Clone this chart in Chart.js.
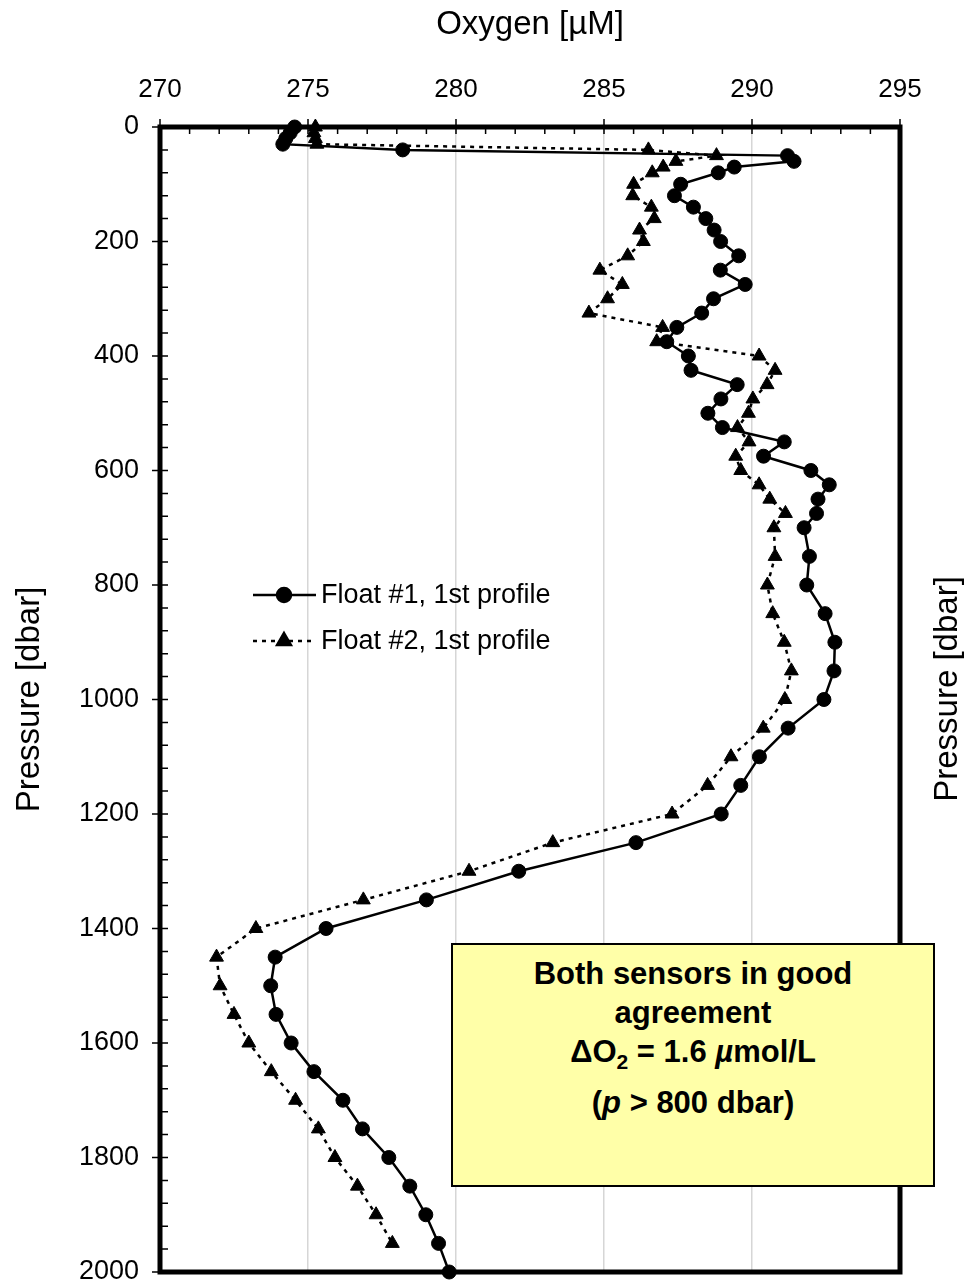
<!DOCTYPE html>
<html>
<head>
<meta charset="utf-8">
<title>Oxygen profiles</title>
<script src="https://cdn.jsdelivr.net/npm/chart.js@4.4.1/dist/chart.umd.min.js"></script>
<style>
  body { margin: 0; background: #fff; }
  #wrap { position: relative; width: 965px; height: 1284px; }
  #nota {
    position: absolute; left: 451px; top: 943px; width: 484px; height: 244px;
    border: 2px solid #000; background: #ffffa8;
    font: bold 31px "Liberation Sans", Arial, sans-serif; color: #000;
    text-align: center; line-height: 39px; padding-top: 9px; box-sizing: border-box;
  }
  #nota sub { font-size: 21px; line-height: 0; }
  #nota .ult { margin-top: 12px; }
</style>
</head>
<body>
<div id="wrap">
  <canvas id="grafico" width="965" height="1284"></canvas>
  <div id="nota">
    <div>Both sensors in good</div>
    <div>agreement</div>
    <div>&Delta;O<sub>2</sub> = 1.6 <i>&micro;</i>mol/L</div>
    <div class="ult">(<i>p</i> &gt; 800 dbar)</div>
  </div>
</div>
<script>
// Niveles de presión (dbar) y oxígeno (µM)
const presion = [0, 10, 20, 30, 40, 50, 60, 70, 80, 100, 120, 140, 160, 180, 200,
  225, 250, 275, 300, 325, 350, 375, 400, 425, 450, 475, 500, 525, 550, 575, 600,
  625, 650, 675, 700, 750, 800, 850, 900, 950, 1000, 1050, 1100, 1150, 1200, 1250,
  1300, 1350, 1400, 1450, 1500, 1550, 1600, 1650, 1700, 1750, 1800, 1850, 1900, 1950, 2000];

const float1 = [274.55, 274.4, 274.25, 274.15, 278.2, 291.2, 291.42, 289.4, 288.86, 287.59,
  287.38, 288.02, 288.44, 288.72, 288.94, 289.55, 288.93, 289.77, 288.7, 288.3, 287.46,
  287.12, 287.85, 287.94, 289.5, 288.95, 288.51, 289.0, 291.09, 290.39, 291.99, 292.61,
  292.23, 292.18, 291.76, 291.94, 291.85, 292.47, 292.8, 292.77, 292.43, 291.22, 290.25,
  289.62, 288.96, 286.08, 282.12, 279.0, 275.61, 273.89, 273.74, 273.92, 274.43, 275.2,
  276.18, 276.84, 277.73, 278.44, 278.98, 279.41, 279.77];

// Float #2 termina en 1950 dbar
const float2 = [275.25, 275.2, 275.25, 275.3, 286.5, 288.8, 287.43, 287.0, 286.63, 286.0,
  285.97, 286.6, 286.7, 286.2, 286.33, 285.8, 284.86, 285.62, 285.12, 284.49, 286.98,
  286.78, 290.24, 290.78, 290.51, 290.03, 289.88, 289.51, 289.9, 289.45, 289.62, 290.24,
  290.6, 291.13, 290.74, 290.78, 290.52, 290.7, 291.09, 291.33, 291.11, 290.38, 289.29,
  288.5, 287.3, 283.27, 280.44, 276.87, 273.24, 271.91, 272.03, 272.5, 273.0, 273.76,
  274.58, 275.35, 275.91, 276.67, 277.3, 277.85];

const etiquetas = ["Float #1, 1st profile", "Float #2, 1st profile"];
const fuente = '"Liberation Sans", Arial, sans-serif';

// Marco, marcas de los ejes, leyenda y título derecho
const marco = {
  id: "marco",
  beforeDatasetsDraw(chart) {
    const { ctx, chartArea: a, scales: { x, y } } = chart;
    ctx.save();
    ctx.strokeStyle = "#000";
    ctx.lineWidth = 1.5;
    ctx.beginPath();
    for (let p = 0; p <= 2000; p += 40) {
      const py = y.getPixelForValue(p);
      ctx.moveTo(a.left, py); ctx.lineTo(a.left + 8, py);
    }
    for (let p = 0; p <= 2000; p += 200) {
      const py = y.getPixelForValue(p);
      ctx.moveTo(a.left - 8, py); ctx.lineTo(a.left, py);
    }
    for (let v = 270; v <= 295; v++) {
      const px = x.getPixelForValue(v);
      ctx.moveTo(px, a.top); ctx.lineTo(px, a.top + 7);
    }
    for (let v = 270; v <= 295; v += 5) {
      const px = x.getPixelForValue(v);
      ctx.moveTo(px, a.top - 8); ctx.lineTo(px, a.top);
    }
    ctx.stroke();
    ctx.lineWidth = 5;
    ctx.strokeRect(a.left, a.top, a.right - a.left, a.bottom - a.top);
    ctx.restore();
  },
  afterDraw(chart) {
    const { ctx } = chart;
    ctx.save();
    // leyenda
    const filas = [595, 641];
    chart.data.datasets.forEach((ds, i) => {
      const yy = filas[i];
      ctx.strokeStyle = "#000";
      ctx.lineWidth = ds.borderWidth;
      ctx.setLineDash(ds.borderDash || []);
      ctx.beginPath(); ctx.moveTo(253, yy); ctx.lineTo(316, yy); ctx.stroke();
      ctx.setLineDash([]);
      Chart.helpers.drawPoint(ctx, { pointStyle: ds.pointStyle, radius: ds.pointRadius, borderWidth: 1 }, 284, yy);
      ctx.fillStyle = "#000";
      ctx.fill();
      ctx.font = "27px " + fuente;
      ctx.textBaseline = "middle";
      ctx.textAlign = "left";
      ctx.fillText(ds.label, 321, yy + 1);
    });
    // título del eje derecho
    ctx.translate(948, 689);
    ctx.rotate(-Math.PI / 2);
    ctx.font = "33px " + fuente;
    ctx.textAlign = "center";
    ctx.textBaseline = "middle";
    ctx.fillStyle = "#000";
    ctx.fillText("Pressure [dbar]", 0, 0);
    ctx.restore();
  }
};

const ctx = document.getElementById("grafico").getContext("2d");

new Chart(ctx, {
  type: "scatter",
  data: {
    datasets: [{
      label: etiquetas[0],
      data: float1.map((v, i) => ({ x: v, y: presion[i] })),
      showLine: true,
      borderColor: "#000",
      backgroundColor: "#000",
      borderWidth: 2.5,
      pointStyle: "circle",
      pointRadius: 7,
      pointBorderWidth: 1,
      clip: false
    }, {
      label: etiquetas[1],
      data: float2.map((v, i) => ({ x: v, y: presion[i] })),
      showLine: true,
      borderColor: "#000",
      backgroundColor: "#000",
      borderWidth: 2.5,
      borderDash: [4, 5],
      pointStyle: "triangle",
      pointRadius: 8,
      pointBorderWidth: 1,
      clip: false
    }]
  },
  options: {
    responsive: false,
    animation: false,
    layout: { padding: { top: 0, left: 0, right: 0, bottom: 12 } },
    plugins: {
      legend: { display: false },
      tooltip: { enabled: false }
    },
    scales: {
      x: {
        type: "linear",
        position: "top",
        min: 270,
        max: 295,
        ticks: { stepSize: 5, color: "#000", padding: 22, font: { family: fuente, size: 26 },
          callback: (v) => String(v) },
        grid: { color: "#d6d6d6", lineWidth: 1.5, drawTicks: false },
        border: { display: false },
        title: { display: true, text: "Oxygen [µM]", color: "#000", padding: { top: 5, bottom: 0 }, font: { family: fuente, size: 33 } },
        afterFit(s) { s.height = 127; s.paddingLeft = 0; s.paddingRight = 0; }
      },
      y: {
        type: "linear",
        position: "left",
        reverse: true,
        min: 0,
        max: 2000,
        ticks: { stepSize: 200, color: "#000", padding: 13, font: { family: fuente, size: 27 },
          callback: (v) => String(v) },
        grid: { display: false },
        border: { display: false },
        title: { display: true, text: "Pressure [dbar]", color: "#000", padding: { top: 10, bottom: 0 }, font: { family: fuente, size: 33 } },
        afterFit(s) { s.width = 160; s.paddingTop = 0; s.paddingBottom = 0; }
      },
      y2: {
        type: "linear",
        position: "right",
        reverse: true,
        min: 0,
        max: 2000,
        ticks: { display: false },
        grid: { display: false },
        border: { display: false },
        afterFit(s) { s.width = 65; s.paddingTop = 0; s.paddingBottom = 0; }
      }
    }
  },
  plugins: [marco]
});
</script>
</body>
</html>
